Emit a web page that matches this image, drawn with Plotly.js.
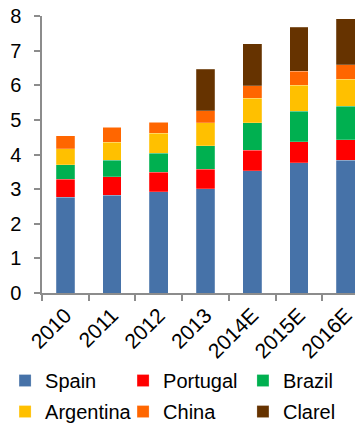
<!DOCTYPE html>
<html>
<head>
<meta charset="utf-8">
<script src="https://cdn.plot.ly/plotly-3.0.1.min.js"></script>
<style>
  html, body { margin: 0; padding: 0; background: #fff; }
  #chart { width: 355px; height: 425px; }
</style>
</head>
<body>
<div id="chart"></div>
<script>
// Production by region, stacked per year (millions of tonnes)
const years = ['2010', '2011', '2012', '2013', '2014E', '2015E', '2016E'];

const spain     = [2.77, 2.82, 2.92, 3.01, 3.53, 3.76, 3.83];
const portugal  = [0.52, 0.54, 0.57, 0.57, 0.59, 0.61, 0.60];
const brazil    = [0.41, 0.48, 0.55, 0.67, 0.79, 0.88, 0.96];
const argentina = [0.46, 0.51, 0.57, 0.66, 0.71, 0.75, 0.79];
const china     = [0.38, 0.44, 0.32, 0.35, 0.36, 0.40, 0.41];
const clarel    = [0, 0, 0, 1.20, 1.22, 1.27, 1.33];

const seriesNames = ['Spain', 'Portugal', 'Brazil', 'Argentina', 'China', 'Clarel'];
const seriesValues = [spain, portugal, brazil, argentina, china, clarel];
const seriesColors = ['#4672A8', '#FF0000', '#00B050', '#FFC000', '#FF6600', '#663300'];

const font = 'Liberation Sans, Arial, sans-serif';

// Legend grid: three columns, two rows below the axis
const legendCols = [-0.118, 0.259, 0.642];
const legendRows = [-0.316, -0.428];

const traces = seriesNames.map((name, i) => ({
  type: 'bar',
  name: name,
  x: years,
  y: seriesValues[i],
  marker: {
    color: seriesColors[i],
    line: { width: 0.6, color: 'rgba(255,255,255,0.35)' }
  },
  legend: i === 0 ? 'legend' : 'legend' + (i + 1),
  hoverinfo: 'x+y+name'
}));

const layout = {
  width: 355,
  height: 425,
  margin: { l: 42, r: 0, t: 16, b: 132, autoexpand: false },
  paper_bgcolor: '#fff',
  plot_bgcolor: '#fff',
  barmode: 'stack',
  bargap: 0.6,
  showlegend: true,
  font: { family: font, color: '#000' },
  xaxis: {
    type: 'category',
    range: [-0.5, 6.2],
    showline: true,
    linecolor: '#8c8c8c',
    linewidth: 1.5,
    ticks: 'outside',
    tickson: 'boundaries',
    ticklen: 6,
    tickwidth: 1.5,
    tickcolor: '#8c8c8c',
    tickangle: -45,
    tickfont: { family: font, size: 21, color: '#000' },
    showgrid: false,
    zeroline: false,
    fixedrange: true
  },
  yaxis: {
    range: [0, 8],
    dtick: 1,
    showline: true,
    linecolor: '#8c8c8c',
    linewidth: 1.5,
    ticks: 'outside',
    ticklen: 6,
    tickwidth: 1.5,
    tickcolor: '#8c8c8c',
    ticklabelstandoff: 9,
    tickfont: { family: font, size: 20, color: '#000' },
    showgrid: false,
    zeroline: false,
    fixedrange: true
  }
};

seriesNames.forEach((name, i) => {
  const key = i === 0 ? 'legend' : 'legend' + (i + 1);
  layout[key] = {
    orientation: 'h',
    xanchor: 'left',
    yanchor: 'middle',
    x: legendCols[i % 3],
    y: legendRows[Math.floor(i / 3)],
    font: { family: font, size: 20, color: '#000' },
    bgcolor: 'rgba(0,0,0,0)',
    itemclick: false,
    itemdoubleclick: false
  };
});

Plotly.newPlot('chart', traces, layout, { displayModeBar: false });
</script>
</body>
</html>
